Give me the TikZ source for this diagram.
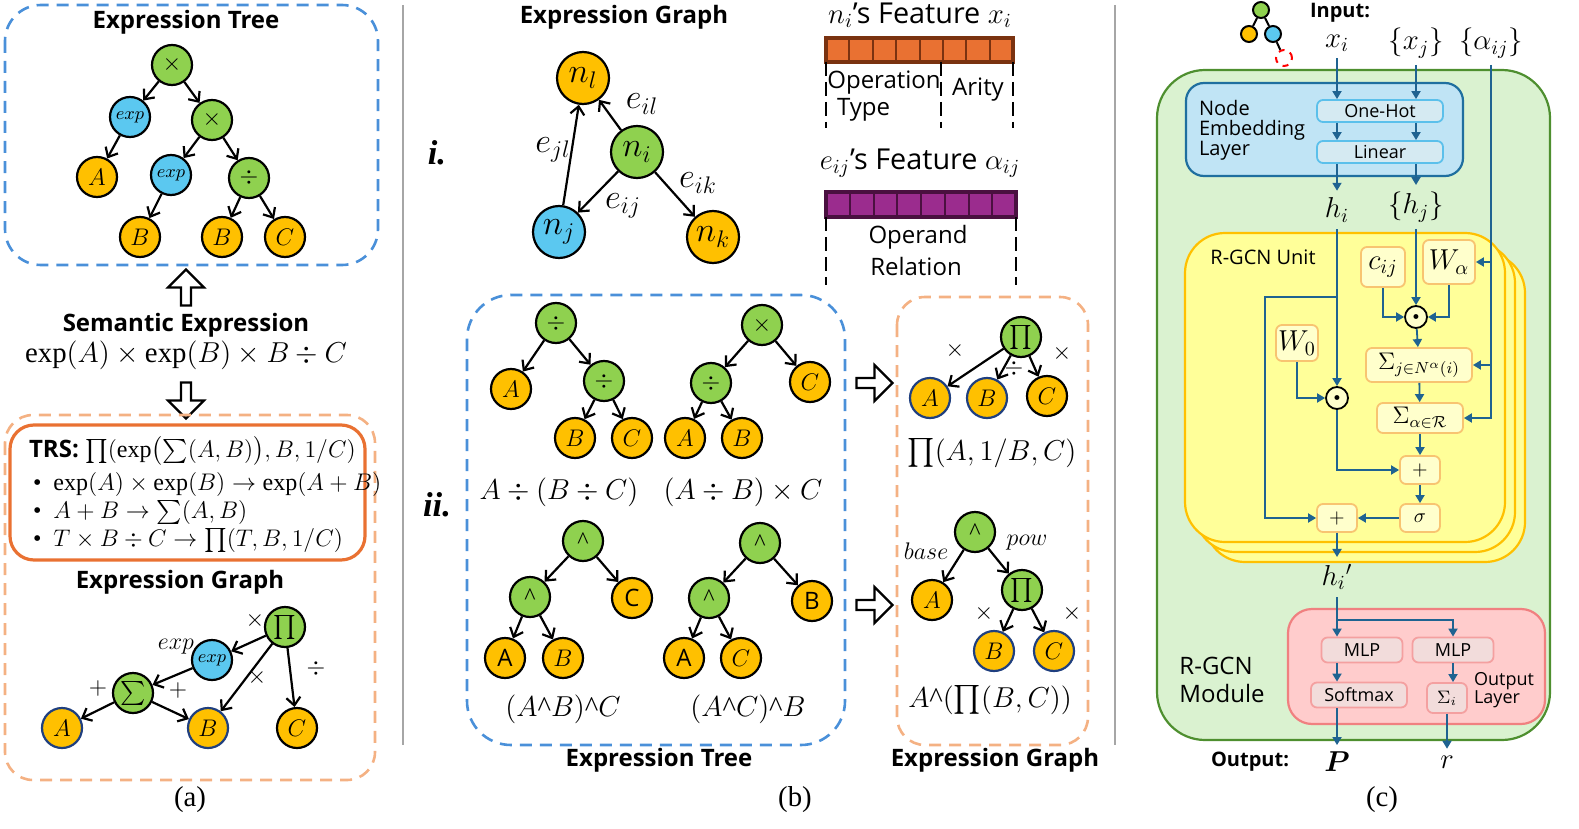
\documentclass[tikz,border=0pt]{standalone}
\usepackage{fontspec}
\usepackage{amsmath,amssymb}
\setmainfont{Liberation Serif}
\setsansfont{Open Sans}
\usetikzlibrary{arrows.meta,shapes.arrows,shapes.geometric}
\definecolor{tg}{HTML}{8FD14F}
\definecolor{to}{HTML}{FFC000}
\definecolor{tb}{HTML}{5BC8F0}
\definecolor{nav}{HTML}{1F3F7F}
\definecolor{dblue}{HTML}{4A90D9}
\definecolor{dor}{HTML}{F4B183}
\definecolor{trs}{HTML}{E97132}
\definecolor{gmod}{HTML}{DAF2D0}
\definecolor{gmodb}{HTML}{4E8F2F}
\definecolor{emb}{HTML}{C0E4F5}
\definecolor{embb}{HTML}{1F6F9F}
\definecolor{embi}{HTML}{D5EAF2}
\definecolor{embib}{HTML}{5BC0EB}
\definecolor{yel}{HTML}{FFFF99}
\definecolor{yelb}{HTML}{FFC000}
\definecolor{sby}{HTML}{FFFFCC}
\definecolor{sbo}{HTML}{F8C471}
\definecolor{pink}{HTML}{FFCCCC}
\definecolor{pinkb}{HTML}{F08080}
\definecolor{mlp}{HTML}{F2DCDB}
\definecolor{mlpb}{HTML}{F4A0A0}
\definecolor{arr}{HTML}{1F6391}
\definecolor{obar}{HTML}{E97132}
\definecolor{obarb}{HTML}{7A3210}
\definecolor{pbar}{HTML}{9B2C8E}
\definecolor{pbarb}{HTML}{4A1040}
\begin{document}
\begin{tikzpicture}[x=0.5pt,y=-0.5pt,
  nd/.style={circle,draw=black,line width=1.1pt,minimum size=20pt,inner sep=0pt,font=\large},
  gn/.style={nd,fill=tg}, on/.style={nd,fill=to}, bn/.style={nd,fill=tb},
  onv/.style={on,draw=nav},
  bign/.style={minimum size=26pt,font=\LARGE},
  ed/.style={-{Straight Barb[length=4pt,width=7pt]},line width=1.1pt},
  ttl/.style={font=\sffamily\bfseries\large},
  lab/.style={font=\large},
  dashb/.style={draw=dblue,line width=1.3pt,dash pattern=on 6pt off 4pt,rounded corners=18pt},
  dasho/.style={draw=dor,line width=1.3pt,dash pattern=on 6pt off 4pt,rounded corners=14pt},
  fat/.style={single arrow,draw=black,line width=1.1pt,fill=white,minimum height=18pt,minimum width=18pt,single arrow head extend=4pt,inner sep=1pt},
  ba/.style={draw=arr,line width=0.9pt,-{Triangle[length=4pt,width=4.5pt]}},
  sb/.style={draw=sbo,fill=sby,line width=0.9pt,rounded corners=3pt,inner sep=0pt},
  ib/.style={draw=embib,fill=embi,line width=0.9pt,rounded corners=3pt,inner sep=0pt,font=\sffamily\small,minimum width=63pt,minimum height=11pt},
  mb/.style={draw=mlpb,fill=mlp,line width=0.9pt,rounded corners=3pt,inner sep=0pt,font=\sffamily\small,minimum height=12.5pt},
  od/.style={circle,draw=black,line width=0.9pt,fill=sby,minimum size=11pt,inner sep=0pt},
  captxt/.style={font=\Large}]
\useasboundingbox (0,0) rectangle (1579,829);
% separators
\draw[gray!70,line width=1pt] (403,5) -- (403,745);
\draw[gray!70,line width=1pt] (1115,5) -- (1115,745);

% ================= (a)
\draw[dashb] (5,5) rectangle (378,265);
\node[ttl] (ta) at (186,22) {Expression Tree};
\node[gn] (a1) at (172,65) {$\times$};
\node[bn] (a2) at (130,117) {\small$exp$};
\node[gn] (a3) at (212,120) {$\times$};
\node[on] (a4) at (97,177) {$A$};
\node[bn] (a5) at (171,175) {\small$exp$};
\node[gn] (a6) at (249,178) {$\div$};
\node[on] (a7) at (140,237) {$B$};
\node[on] (a8) at (222,237) {$B$};
\node[on] (a9) at (285,237) {$C$};
\draw[ed] (a1)--(a2); \draw[ed] (a1)--(a3); \draw[ed] (a2)--(a4);
\draw[ed] (a3)--(a5); \draw[ed] (a3)--(a6); \draw[ed] (a5)--(a7);
\draw[ed] (a6)--(a8); \draw[ed] (a6)--(a9);
\node[fat,shape border rotate=90] (fu) at (186,290) {};
\node[ttl] (se) at (186,325) {Semantic Expression};
\node[font=\Large] (sx) at (186,355) {$\exp(A)\times\exp(B)\times B\div C$};
\node[fat,shape border rotate=270] (fd) at (186,398) {};
\draw[dasho] (5,415) rectangle (375,780);
\draw[trs,line width=1.6pt,rounded corners=12pt] (10,425) rectangle (365,560);
\node[anchor=west,font=\large] (trs) at (22,451) {\sffamily\bfseries TRS: \rmfamily$\textstyle\prod(\exp\bigl(\sum(A,B)\bigr),B,1/C)$};
\node[anchor=west,font=\large] (r1) at (26,484) {\textbullet\ \ $\exp(A)\times\exp(B)\to\exp(A+B)$};
\node[anchor=west,font=\large] (r2) at (26,512) {\textbullet\ \ $A+B\to\textstyle\sum(A,B)$};
\node[anchor=west,font=\large] (r3) at (26,540) {\textbullet\ \ $T\times B\div C\to\textstyle\prod(T,B,1/C)$};
\node[ttl] (tg) at (180,582) {Expression Graph};
\node[gn] (g1) at (285,627) {$\prod$};
\node[bn] (g2) at (212,660) {\small$exp$};
\node[gn] (g3) at (133,693) {$\sum$};
\node[onv] (g4) at (62,728) {$A$};
\node[onv] (g5) at (208,728) {$B$};
\node[on] (g6) at (297,728) {$C$};
\draw[ed] (g1)--(g2); \draw[ed] (g2)--(g3); \draw[ed] (g3)--(g4);
\draw[ed] (g3)--(g5); \draw[ed] (g1)--(g5); \draw[ed] (g1)--(g6);
\node[lab] (l1) at (255,620) {$\times$};
\node[lab] (l2) at (176,647) {$exp$};
\node[lab] (l3) at (98,688) {$+$};
\node[lab] (l4) at (178,690) {$+$};
\node[lab] (l5) at (257,677) {$\times$};
\node[lab] (l6) at (316,668) {$\div$};
\node[captxt] (ca) at (190,800) {(a)};

% ================= (b)
\node[ttl] (tb1) at (624,17) {Expression Graph};
\node[on,bign] (nl) at (583,78) {$n_l$};
\node[gn,bign] (ni) at (637,152) {$n_i$};
\node[bn,bign] (nj) at (559,232) {$n_j$};
\node[on,bign] (nk) at (713,237) {$n_k$};
\draw[ed] (ni)--(nl); \draw[ed] (nj)--(nl); \draw[ed] (ni)--(nj); \draw[ed] (ni)--(nk);
\node[font=\LARGE] (e1) at (642,104) {$e_{il}$};
\node[font=\LARGE] (e2) at (553,150) {$e_{jl}$};
\node[font=\LARGE] (e3) at (623,206) {$e_{ij}$};
\node[font=\LARGE] (e4) at (698,183) {$e_{ik}$};
\node[font=\LARGE\bfseries\itshape] (bi) at (437,153) {i.};
\node[font=\LARGE\bfseries\itshape] (bii) at (437,505) {ii.};
\node[font=\Large] (f1) at (920,15) {$n_i$\sffamily’s Feature $x_i$};
\foreach \k in {0,...,7} \draw[draw=obarb,fill=obar,line width=1pt] (826+\k*23.4,38) rectangle (826+\k*23.4+23.4,62);
\draw[obarb,line width=2pt] (826,38) rectangle (1013,62);
\foreach \xx in {826,941,1013} \draw[line width=1.3pt,dash pattern=on 7pt off 3pt] (\xx,62) -- (\xx,128);
\node[font=\sffamily\large] (op) at (884,83) {Operation};
\node[font=\sffamily\large,anchor=west] (ty) at (830,110) {Type};
\node[font=\sffamily\large] (ar) at (978,90) {Arity};
\node[font=\Large] (f2) at (920,163) {$e_{ij}$\sffamily’s Feature $\alpha_{ij}$};
\foreach \k in {0,...,7} \draw[draw=pbarb,fill=pbar,line width=1pt] (826+\k*23.75,192) rectangle (826+\k*23.75+23.75,217);
\draw[pbarb,line width=2pt] (826,192) rectangle (1016,217);
\foreach \xx in {826,1016} \draw[line width=1.3pt,dash pattern=on 7pt off 3pt] (\xx,217) -- (\xx,285);
\node[font=\sffamily\large] (opd) at (918,237) {Operand};
\node[font=\sffamily\large] (rel) at (916,266) {Relation};
\draw[dashb,rounded corners=22pt] (467,295) rectangle (845,745);
% tree 1
\node[gn] (t11) at (556,323) {$\div$};
\node[on] (t12) at (511,389) {$A$};
\node[gn] (t13) at (604,381) {$\div$};
\node[on] (t14) at (575,438) {$B$};
\node[on] (t15) at (632,438) {$C$};
\draw[ed](t11)--(t12); \draw[ed](t11)--(t13); \draw[ed](t13)--(t14); \draw[ed](t13)--(t15);
\node[font=\Large] (x1) at (559,492) {$A\div(B\div C)$};
% tree 2
\node[gn] (t21) at (762,325) {$\times$};
\node[gn] (t22) at (711,383) {$\div$};
\node[on] (t23) at (810,382) {$C$};
\node[on] (t24) at (685,438) {$A$};
\node[on] (t25) at (742,438) {$B$};
\draw[ed](t21)--(t22); \draw[ed](t21)--(t23); \draw[ed](t22)--(t24); \draw[ed](t22)--(t25);
\node[font=\Large] (x2) at (743,492) {$(A\div B)\times C$};
% tree 3
\node[gn] (t31) at (583,541) {\textasciicircum};
\node[gn] (t32) at (530,597) {\textasciicircum};
\node[on] (t33) at (632,598) {\sffamily C};
\node[on] (t34) at (505,658) {\sffamily A};
\node[on] (t35) at (563,658) {$B$};
\draw[ed](t31)--(t32); \draw[ed](t31)--(t33); \draw[ed](t32)--(t34); \draw[ed](t32)--(t35);
\node[font=\Large] (x3) at (563,709) {$(A$\textasciicircum$B)$\textasciicircum$C$};
% tree 4
\node[gn] (t41) at (760,543) {\textasciicircum};
\node[gn] (t42) at (709,598) {\textasciicircum};
\node[on] (t43) at (812,601) {\sffamily B};
\node[on] (t44) at (684,658) {\sffamily A};
\node[on] (t45) at (741,658) {$C$};
\draw[ed](t41)--(t42); \draw[ed](t41)--(t43); \draw[ed](t42)--(t44); \draw[ed](t42)--(t45);
\node[font=\Large] (x4) at (748,709) {$(A$\textasciicircum$C)$\textasciicircum$B$};
\node[fat] (fr1) at (872,383) {};
\node[fat] (fr2) at (872,605) {};
\draw[dasho] (897,297) rectangle (1088,745);
% graph 1
\node[gn] (p1) at (1021,337) {$\prod$};
\node[onv] (p2) at (930,398) {$A$};
\node[onv] (p3) at (987,398) {$B$};
\node[on] (p4) at (1047,396) {$C$};
\draw[ed](p1)--(p2); \draw[ed](p1)--(p3); \draw[ed](p1)--(p4);
\node[lab] (pl1) at (955,350) {$\times$};
\node[lab] (pl2) at (1014,368) {$\div$};
\node[lab] (pl3) at (1062,353) {$\times$};
\node[font=\Large] (px) at (992,453) {$\textstyle\prod(A,1/B,C)$};
% graph 2
\node[gn] (q1) at (975,532) {\textasciicircum};
\node[on] (q2) at (932,600) {$A$};
\node[gn] (q3) at (1022,590) {$\prod$};
\node[onv] (q4) at (994,651) {$B$};
\node[onv] (q5) at (1054,651) {$C$};
\draw[ed](q1)--(q2); \draw[ed](q1)--(q3); \draw[ed](q3)--(q4); \draw[ed](q3)--(q5);
\node[lab] (ql1) at (926,551) {$base$};
\node[lab] (ql2) at (1027,543) {$pow$};
\node[lab] (ql3) at (984,613) {$\times$};
\node[lab] (ql4) at (1072,613) {$\times$};
\node[font=\Large] (qx) at (990,700) {$A$\textasciicircum$(\textstyle\prod(B,C))$};
\node[ttl] (tb2) at (659,760) {Expression Tree};
\node[ttl] (tb3) at (995,760) {Expression Graph};
\node[captxt] (cb) at (795,800) {(b)};

% ================= (c)
\node[circle,draw=black,fill=tg,line width=1pt,minimum size=8pt,inner sep=0] (i1) at (1261,10) {};
\node[circle,draw=black,fill=to,line width=1pt,minimum size=8pt,inner sep=0] (i2) at (1249,34) {};
\node[circle,draw=black,fill=tb,line width=1pt,minimum size=8pt,inner sep=0] (i3) at (1273,34) {};
\node[circle,draw=red,dashed,line width=1pt,minimum size=8pt,inner sep=0] (i4) at (1284,58) {};
\draw[line width=1pt] (i1)--(i2); \draw[line width=1pt] (i1)--(i3); \draw[line width=1pt] (i3)--(i4);
\node[font=\sffamily\bfseries] (inp) at (1340,13) {Input:};
\node[font=\Large] (xi) at (1337,43) {$x_i$};
\node[font=\Large] (xj) at (1416,43) {$\{x_j\}$};
\node[font=\Large] (aij) at (1491,43) {$\{\alpha_{ij}\}$};
\draw[draw=gmodb,fill=gmod,line width=1.1pt,rounded corners=24pt] (1157,70) rectangle (1550,740);
\draw[draw=embb,fill=emb,line width=1.1pt,rounded corners=9pt] (1186,83) rectangle (1463,176);
\node[font=\sffamily,align=left,anchor=west] (nel) at (1192,130) {Node\\[-2pt]Embedding\\[-2pt]Layer};
\node[ib] (oh) at (1380,111) {One-Hot};
\node[ib] (lin) at (1380,152) {Linear};
\node[font=\Large] (hi) at (1337,210) {$h_i$};
\node[font=\Large] (hj) at (1416,207) {$\{h_j\}$};
\draw[ba] (xi) -- (xi|-oh.north); \draw[ba] (xj) -- (xj|-oh.north);
\draw[ba] (xi|-oh.south) -- (xi|-lin.north); \draw[ba] (xj|-oh.south) -- (xj|-lin.north);
\draw[ba] (xi|-lin.south) -- (hi); \draw[ba] (xj|-lin.south) -- (hj);
% stack
\draw[draw=yelb,fill=yel,line width=1.1pt,rounded corners=20pt] (1205,253) rectangle (1525,562);
\draw[draw=yelb,fill=yel,line width=1.1pt,rounded corners=20pt] (1195,243) rectangle (1515,552);
\draw[draw=yelb,fill=yel,line width=1.1pt,rounded corners=20pt] (1185,233) rectangle (1505,542);
\node[font=\sffamily] (ru) at (1263,257) {R-GCN Unit};
\node[sb,minimum width=22pt,minimum height=20pt,font=\Large] (cij) at (1383,267) {$c_{ij}$};
\node[sb,minimum width=26pt,minimum height=22pt,font=\Large] (wa) at (1449,262) {$W_\alpha$};
\node[sb,minimum width=21pt,minimum height=18pt,font=\Large] (w0) at (1297,343) {$W_0$};
\node[od] (od1) at (1416,317) {\tiny$\bullet$};
\node[od] (od2) at (1337,398) {\tiny$\bullet$};
\node[sb,minimum width=53pt,minimum height=17pt,font=\large] (sj) at (1419,365) {$\Sigma_{j\in N^{\alpha}(i)}$};
\node[sb,minimum width=43pt,minimum height=15pt,font=\large] (sa) at (1420,418) {$\Sigma_{\alpha\in\mathcal{R}}$};
\node[sb,minimum width=20pt,minimum height=14pt] (pl1c) at (1420,470) {$+$};
\node[sb,minimum width=20pt,minimum height=14pt] (sg) at (1420,518) {$\sigma$};
\node[sb,minimum width=20pt,minimum height=14pt] (pl2c) at (1337,518) {$+$};
\node[font=\Large] (hip) at (1337,577) {$h_i{}'$};
\coordinate (br) at (1337,297);
\draw[ba] (hi) -- (od2);
\draw[ba] (br) -- (1265,297) |- (pl2c.west);
\draw[ba] (w0.south) |- (od2.west);
\draw[ba] (od2.south) |- (pl1c.west);
\draw[ba] (hj) -- (od1);
\draw[ba] (cij.south) |- (od1.west);
\draw[ba] (wa.south) |- (od1.east);
\draw[ba] (od1) -- (sj); \draw[ba] (sj) -- (sa); \draw[ba] (sa) -- (pl1c);
\draw[ba] (pl1c) -- (sg); \draw[ba] (sg) -- (pl2c); \draw[ba] (pl2c) -- (hip);
\draw[ba] (aij) |- (sa.east);
\draw[ba] (aij|-wa) -- (wa.east);
\draw[ba] (aij|-sj) -- (sj.east);
% output layer
\draw[draw=pinkb,fill=pink,line width=1.1pt,rounded corners=12pt] (1288,609) rectangle (1545,724);
\node[mb,minimum width=40.5pt] (m1) at (1362,650) {MLP};
\node[mb,minimum width=40.5pt] (m2) at (1453,650) {MLP};
\node[mb,minimum width=48pt] (sm) at (1359,695) {Softmax};
\node[mb,minimum width=20pt,minimum height=15pt] (si) at (1447,698) {$\Sigma_i$};
\node[font=\sffamily\small,align=left] (ol) at (1504,690) {Output\\[-2pt]Layer};
\node[font=\sffamily\large,align=left] (rm) at (1222,680) {R-GCN\\Module};
\coordinate (sp) at (1337,620);
\draw[ba] (hip) -- (hip|-m1.north);
\draw[ba] (sp) -| (m2.north);
\draw[ba] (hip|-m1.south) -- (hip|-sm.north);
\draw[ba] (m2.south) -- (m2.south|-si.north);
\node[font=\sffamily\bfseries] (outp) at (1250,762) {Output:};
\node[font=\Large] (P) at (1337,762) {$\boldsymbol{P}$};
\node[font=\Large] (r) at (1447,762) {$r$};
\draw[ba] (hip|-sm.south) -- (P);
\draw[ba] (si.south) -- (r);
\node[captxt] (cc) at (1382,800) {(c)};
\end{tikzpicture}
\end{document}
